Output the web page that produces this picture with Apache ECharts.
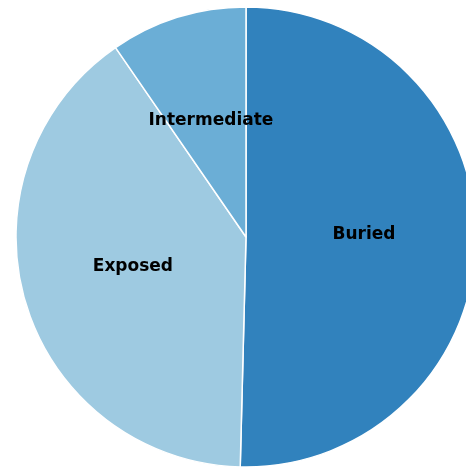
<!DOCTYPE html>
<html><head><meta charset="utf-8">
<script src="https://cdn.jsdelivr.net/npm/echarts@6/dist/echarts.min.js"></script>
<style>html,body{margin:0;padding:0;background:#fff;}#c{width:466px;height:467px;}</style>
</head><body><div id="c"></div>
<script>
const categories = ["Buried", "Exposed", "Intermediate"];
const values = [50.4, 40.0, 9.6];
const colors = ["#3182bd", "#9ecae1", "#6baed6"];
const chart = echarts.init(document.getElementById('c'), null, {renderer: 'canvas'});
chart.setOption({
  animation: false,
  series: [{
    type: 'pie',
    center: [246, 237],
    radius: [0, 230],
    startAngle: 90,
    clockwise: true,
    data: categories.map((c, i) => ({name: c, value: values[i], itemStyle: {color: colors[i]}})),
    itemStyle: {borderColor: '#fff', borderWidth: 1.5},
    label: {show: true, position: 'inside', formatter: '{b}', color: '#000',
      fontFamily: 'DejaVu Sans', fontWeight: 'bold', fontSize: 17, offset: [0, -4]},
    labelLine: {show: false},
    emphasis: {disabled: true}
  }]
});
</script></body></html>
